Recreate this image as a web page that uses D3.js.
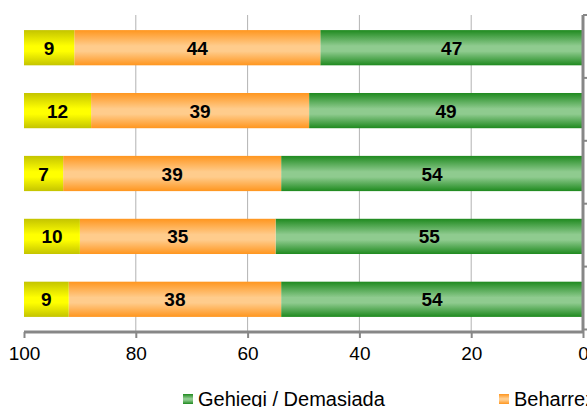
<!DOCTYPE html>
<html>
<head>
<meta charset="utf-8">
<script src="https://cdn.jsdelivr.net/npm/d3@7"></script>
<style>
  body { margin: 0; background: #fff; }
  svg { display: block; font-family: "Liberation Sans", Arial, sans-serif; }
</style>
</head>
<body>
<div class="chart"></div>
<script>
// chart data
var categories = ["A", "B", "C", "D", "E"];
var seriesNames = ["Gehiegi / Demasiada", "Beharrezkoa / Necesaria", "Gutxiegi / Insuficiente"];
var gehiegi = [47, 49, 54, 55, 54];
var beharrezkoa = [44, 39, 39, 35, 38];
var gutxiegi = [9, 12, 7, 10, 9];
var xTicks = [100, 80, 60, 40, 20, 0];

var svgWidth = 587;
var svgHeight = 407;

var svg = d3.select(".chart")
  .append("svg")
  .attr("width", svgWidth)
  .attr("height", svgHeight);

// gradients, dark edges and light middle like the office chart look
var colours = [
  { id: "gGreen", edge: "#1f8a1f", mid: "#8fcb8f" },
  { id: "gOrange", edge: "#ff961f", mid: "#ffcc8c" },
  { id: "gYellow", edge: "#c4c400", mid: "#ffff00" }
];
var defs = svg.append("defs");
colours.forEach(function(c) {
  var g = defs.append("linearGradient")
    .attr("id", c.id)
    .attr("x1", 0).attr("y1", 0).attr("x2", 0).attr("y2", 1);
  g.append("stop").attr("offset", "0%").attr("stop-color", c.edge);
  g.append("stop").attr("offset", "45%").attr("stop-color", c.mid);
  g.append("stop").attr("offset", "60%").attr("stop-color", c.mid);
  g.append("stop").attr("offset", "100%").attr("stop-color", c.edge);
});

var plotTop = 15, plotBottom = 332;

// reversed axis: 100 left, 0 right (totals above 100 get cut at the edge)
var x = d3.scaleLinear()
  .domain([100, 0])
  .range([24, 583])
  .clamp(true);

var y = d3.scaleBand()
  .domain(categories)
  .range([plotTop, plotBottom])
  .paddingInner(0.44)
  .paddingOuter(0.24);

// gridlines
svg.append("g")
  .selectAll("line")
  .data([80, 60, 40, 20])
  .enter()
  .append("line")
  .attr("x1", d => x(d)).attr("x2", d => x(d))
  .attr("y1", plotTop).attr("y2", plotBottom)
  .attr("stroke", "#b3b3b3")
  .attr("stroke-width", 1);

// stack the series
var table = categories.map(function(c, i) {
  return { cat: c, s0: gehiegi[i], s1: beharrezkoa[i], s2: gutxiegi[i] };
});
var stacked = d3.stack().keys(["s0", "s1", "s2"])(table);

var layers = svg.append("g")
  .selectAll("g")
  .data(stacked)
  .enter()
  .append("g")
  .attr("fill", (d, i) => "url(#" + colours[i].id + ")");

layers.selectAll("rect")
  .data(d => d)
  .enter()
  .append("rect")
  .attr("x", d => x(d[1]))
  .attr("width", d => x(d[0]) - x(d[1]))
  .attr("y", d => y(d.data.cat))
  .attr("height", y.bandwidth());

layers.selectAll("text")
  .data(d => d)
  .enter()
  .append("text")
  .attr("x", d => (x(d[0]) + x(d[1])) / 2)
  .attr("y", d => y(d.data.cat) + y.bandwidth() / 2 + 7)
  .attr("text-anchor", "middle")
  .attr("font-size", "19px")
  .attr("font-weight", "bold")
  .attr("fill", "#000")
  .text(d => d[1] - d[0]);

// bottom axis
var bottomAxis = d3.axisBottom(x)
  .tickValues(xTicks)
  .tickSize(6)
  .tickPadding(9);

var bx = svg.append("g")
  .attr("transform", `translate(0, ${plotBottom})`)
  .call(bottomAxis);
bx.select(".domain").attr("stroke", "#878787").attr("stroke-width", 3).attr("d", `M24,0H583`);
bx.selectAll(".tick line").attr("stroke", "#878787").attr("stroke-width", 2);
bx.selectAll(".tick text")
  .attr("font-size", "19px")
  .attr("font-family", "Liberation Sans, Arial, sans-serif")
  .attr("fill", "#000");

// right axis, category labels fall outside the picture
var rightAxis = d3.axisRight(y)
  .tickValues([])
  .tickSizeOuter(0);
var ry = svg.append("g")
  .attr("transform", `translate(${x(0)}, 0)`)
  .call(rightAxis);
ry.select(".domain").attr("stroke", "#878787").attr("stroke-width", 3)
  .attr("d", `M0,${plotTop}V${plotBottom}`);
var step = y.step();
ry.selectAll(".sep")
  .data(d3.range(categories.length + 1))
  .enter()
  .append("line")
  .attr("x1", 0).attr("x2", 6)
  .attr("y1", i => plotTop + i * step).attr("y2", i => plotTop + i * step)
  .attr("stroke", "#878787")
  .attr("stroke-width", 2);

// legend
var legendX = [183, 499, 840];
var legend = svg.append("g")
  .selectAll("g")
  .data(seriesNames)
  .enter()
  .append("g")
  .attr("transform", (d, i) => `translate(${legendX[i]}, 394)`);
legend.append("rect")
  .attr("width", 10).attr("height", 10)
  .attr("fill", (d, i) => "url(#" + colours[i].id + ")");
legend.append("text")
  .attr("x", 15)
  .attr("y", 12)
  .attr("font-size", "20px")
  .attr("fill", "#000")
  .text(d => d);
</script>
</body>
</html>
